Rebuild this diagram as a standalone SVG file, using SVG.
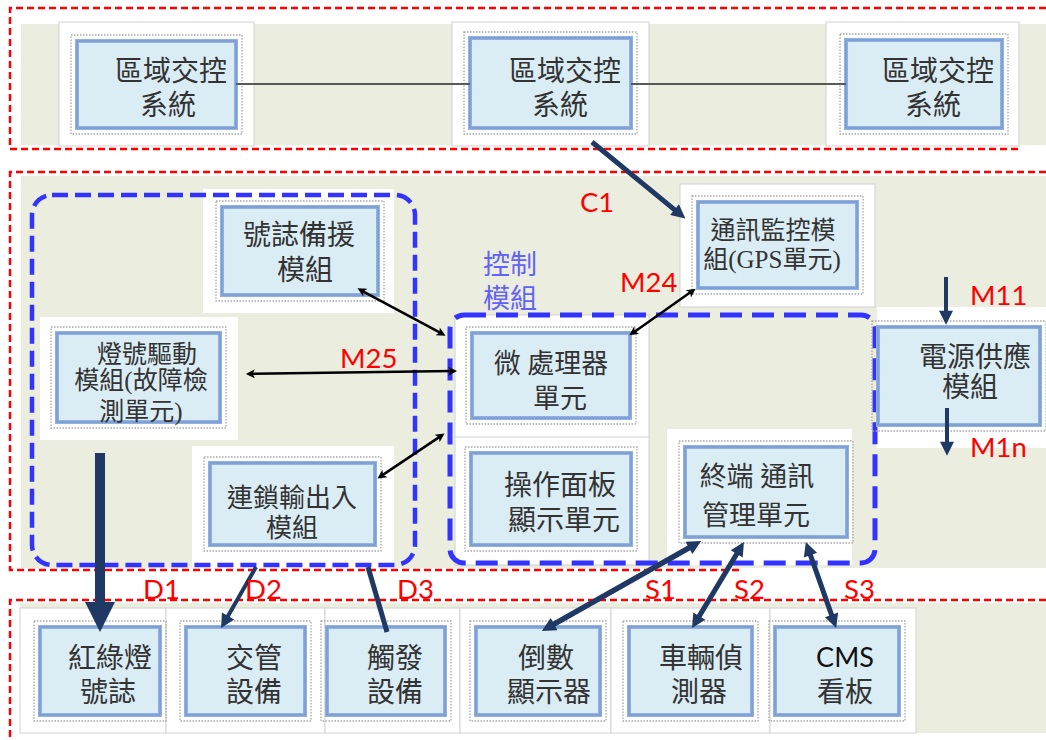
<svg xmlns="http://www.w3.org/2000/svg" width="1046" height="740" viewBox="0 0 1046 740">
<style>
.bg{fill:#EBEEDF}
.pn{fill:#fff;stroke:#d2d2d2;stroke-width:1}
.red{fill:none;stroke:#FF0000;stroke-width:2.5;stroke-dasharray:7 4}
.blue{fill:none;stroke:#3333FF;stroke-width:4.5;stroke-dasharray:16 7}
.blue2{fill:none;stroke:#3333FF;stroke-width:5;stroke-dasharray:22 10}
.glow{fill:none;stroke:#a8a8a8;stroke-width:1.3;stroke-dasharray:1.5 1.5}
.box{fill:#DAECF4;stroke:#93B1E0;stroke-width:4}
.boxin{fill:none;stroke:#7396CE;stroke-width:1.2}
.t{font-family:"Liberation Serif","Noto Sans CJK TC",serif;fill:#333;text-anchor:middle}
.lab{font-family:Lato,"Liberation Sans",sans-serif;fill:#FF0000;font-size:27.5px}
.navy{stroke:#1F3864;fill:none}
.blk{stroke:#000;stroke-width:2.5;fill:none}
</style>
<defs>
<marker id="ahN" viewBox="0 0 10 10" refX="4.4" refY="5" markerWidth="18" markerHeight="14" markerUnits="userSpaceOnUse" orient="auto-start-reverse"><path d="M0,0 L10,5 L0,10 Z" fill="#1F3864"/></marker>
<marker id="ahBig" viewBox="0 0 10 10" refX="5" refY="5" markerWidth="30" markerHeight="30" markerUnits="userSpaceOnUse" orient="auto"><path d="M0,0 L10,5 L0,10 Z" fill="#1F3864"/></marker>
<marker id="ahK" viewBox="0 0 10 10" refX="4.3" refY="5" markerWidth="14" markerHeight="9" markerUnits="userSpaceOnUse" orient="auto-start-reverse"><path d="M0,0 L10,5 L0,10 L2.5,5 Z" fill="#000"/></marker>
</defs>
<rect width="1046" height="740" fill="#fff"/>
<!-- backgrounds -->
<rect class="bg" x="21" y="24" width="1025" height="121"/>
<rect class="bg" x="21" y="176" width="1025" height="392"/>
<rect class="bg" x="20" y="603" width="1026" height="130"/>
<!-- panels top -->
<rect class="pn" x="59" y="22" width="195" height="124"/>
<rect class="pn" x="452" y="22" width="197" height="124"/>
<rect class="pn" x="826" y="22" width="193" height="124"/>
<!-- panels middle -->
<rect fill="#fff" x="203" y="189" width="191" height="124"/>
<rect fill="#fff" x="40" y="317" width="198" height="123"/>
<rect fill="#fff" x="192" y="446" width="202" height="122"/>
<rect class="pn" x="680" y="184" width="195" height="123"/>
<rect class="pn" x="455" y="315" width="194" height="250"/>
<line x1="455" y1="437" x2="649" y2="437" stroke="#d2d2d2"/>
<rect fill="#fff" x="667" y="429" width="185" height="136"/>
<rect fill="#fff" x="877" y="307" width="169" height="141"/>
<!-- panels bottom -->
<rect class="pn" x="20" y="608" width="146" height="125"/>
<rect class="pn" x="166" y="608" width="159" height="125"/>
<rect class="pn" x="325" y="608" width="135" height="125"/>
<rect class="pn" x="460" y="608" width="151" height="125"/>
<rect class="pn" x="611" y="608" width="159" height="125"/>
<rect class="pn" x="770" y="608" width="146" height="125"/>
<!-- red dashed section frames -->
<path class="red" d="M1046,8 H10 V149 H1022"/>
<path class="red" d="M1046,172 H10 V570 H741"/>
<path class="red" d="M1046,600 H10 V740"/>
<!-- blue dashed group frames -->
<rect class="blue" x="32" y="195" width="383" height="370" rx="20"/>
<rect class="blue2" x="450" y="315" width="425" height="248" rx="14"/>
<text x="483" y="274" font-family="'Liberation Serif','Noto Sans CJK TC',serif" font-size="27" fill="#6262F7">控制</text>
<text x="483" y="308" font-family="'Liberation Serif','Noto Sans CJK TC',serif" font-size="27" fill="#6262F7">模組</text>
<!-- nodes -->
<g id="atc1"><rect class="glow" x="71" y="35" width="171" height="99"/><rect class="box" x="77" y="41" width="159" height="87"/><rect class="boxin" x="77" y="41" width="159" height="87"/><text class="t" font-size="28" x="171" y="81">區域交控</text><text class="t" font-size="28" x="168" y="115">系統</text></g>
<g id="atc2"><rect class="glow" x="464" y="32" width="173" height="102"/><rect class="box" x="470" y="38" width="161" height="90"/><rect class="boxin" x="470" y="38" width="161" height="90"/><text class="t" font-size="28" x="565" y="81">區域交控</text><text class="t" font-size="28" x="560" y="115">系統</text></g>
<g id="atc3"><rect class="glow" x="840" y="34" width="168" height="100"/><rect class="box" x="846" y="40" width="156" height="88"/><rect class="boxin" x="846" y="40" width="156" height="88"/><text class="t" font-size="28" x="938" y="81">區域交控</text><text class="t" font-size="28" x="933" y="115">系統</text></g>
<g id="backup"><rect class="glow" x="216" y="201" width="168" height="100"/><rect class="box" x="222" y="207" width="156" height="88"/><rect class="boxin" x="222" y="207" width="156" height="88"/><text class="t" font-size="28" x="299" y="245">號誌備援</text><text class="t" font-size="28" x="305" y="280">模組</text></g>
<g id="lampdrv"><rect class="glow" x="51" y="327" width="175" height="101"/><rect class="box" x="57" y="333" width="163" height="89"/><rect class="boxin" x="57" y="333" width="163" height="89"/><text class="t" font-size="25" x="147" y="363">燈號驅動</text><text class="t" font-size="25" x="141" y="389">模組(故障檢</text><text class="t" font-size="25" x="141" y="420">測單元)</text></g>
<g id="interlock"><rect class="glow" x="204" y="457" width="177" height="94"/><rect class="box" x="210" y="463" width="165" height="82"/><rect class="boxin" x="210" y="463" width="165" height="82"/><text class="t" font-size="26" x="292" y="507">連鎖輸出入</text><text class="t" font-size="26" x="292" y="537">模組</text></g>
<g id="commmon"><rect class="glow" x="692" y="196" width="171" height="98"/><rect class="box" x="698" y="202" width="159" height="86"/><rect class="boxin" x="698" y="202" width="159" height="86"/><text class="t" font-size="25" x="773" y="239">通訊監控模</text><text class="t" font-size="25" x="772" y="268">組(GPS單元)</text></g>
<g id="mcu"><rect class="glow" x="466" y="327" width="170" height="97"/><rect class="box" x="472" y="333" width="158" height="85"/><rect class="boxin" x="472" y="333" width="158" height="85"/><text class="t" font-size="27" x="551" y="373">微 處理器</text><text class="t" font-size="27" x="560" y="408">單元</text></g>
<g id="panel"><rect class="glow" x="465" y="447" width="172" height="104"/><rect class="box" x="471" y="453" width="160" height="92"/><rect class="boxin" x="471" y="453" width="160" height="92"/><text class="t" font-size="28" x="560" y="495">操作面板</text><text class="t" font-size="28" x="564" y="530">顯示單元</text></g>
<g id="termcomm"><rect class="glow" x="679" y="441" width="174" height="102"/><rect class="box" x="685" y="447" width="162" height="90"/><rect class="boxin" x="685" y="447" width="162" height="90"/><text class="t" font-size="27" x="757" y="486">終端 通訊</text><text class="t" font-size="27" x="756" y="525">管理單元</text></g>
<g id="power"><rect class="glow" x="872" y="321" width="174" height="110"/><rect class="box" x="878" y="327" width="162" height="98"/><rect class="boxin" x="878" y="327" width="162" height="98"/><text class="t" font-size="28" x="975" y="367">電源供應</text><text class="t" font-size="28" x="970" y="397">模組</text></g>
<g id="signal"><rect class="glow" x="34" y="621" width="132" height="100"/><rect class="box" x="40" y="627" width="120" height="88"/><rect class="boxin" x="40" y="627" width="120" height="88"/><text class="t" font-size="28" x="110" y="668">紅綠燈</text><text class="t" font-size="28" x="108" y="702">號誌</text></g>
<g id="traffic"><rect class="glow" x="180" y="621" width="131" height="100"/><rect class="box" x="186" y="627" width="119" height="88"/><rect class="boxin" x="186" y="627" width="119" height="88"/><text class="t" font-size="28" x="254" y="668">交管</text><text class="t" font-size="28" x="254" y="702">設備</text></g>
<g id="trigger"><rect class="glow" x="321" y="621" width="130" height="100"/><rect class="box" x="327" y="627" width="118" height="88"/><rect class="boxin" x="327" y="627" width="118" height="88"/><text class="t" font-size="28" x="395" y="668">觸發</text><text class="t" font-size="28" x="395" y="702">設備</text></g>
<g id="countdown"><rect class="glow" x="470" y="621" width="136" height="100"/><rect class="box" x="476" y="627" width="124" height="88"/><rect class="boxin" x="476" y="627" width="124" height="88"/><text class="t" font-size="28" x="546" y="668">倒數</text><text class="t" font-size="28" x="549" y="702">顯示器</text></g>
<g id="detector"><rect class="glow" x="623" y="621" width="135" height="100"/><rect class="box" x="629" y="627" width="123" height="88"/><rect class="boxin" x="629" y="627" width="123" height="88"/><text class="t" font-size="28" x="701" y="668">車輛偵</text><text class="t" font-size="28" x="699" y="702">測器</text></g>
<g id="cms"><rect class="glow" x="769" y="621" width="136" height="100"/><rect class="box" x="775" y="627" width="124" height="88"/><rect class="boxin" x="775" y="627" width="124" height="88"/><text font-family="Lato,'Liberation Sans',sans-serif" font-size="27" fill="#111" text-anchor="middle" x="845" y="667">CMS</text><text class="t" font-size="28" x="845" y="702">看板</text></g>
<!-- connectors -->
<g id="connectors">
<line x1="236" y1="84" x2="470" y2="84" stroke="#595959" stroke-width="2"/>
<line x1="631" y1="84" x2="846" y2="84" stroke="#595959" stroke-width="2"/>
<line class="navy" stroke-width="5" x1="592" y1="142" x2="679.3" y2="213.6" marker-end="url(#ahN)"/>
<line class="blk" x1="362" y1="290.8" x2="441" y2="333.2" marker-start="url(#ahK)" marker-end="url(#ahK)"/>
<line class="blk" x1="251" y1="373.9" x2="452" y2="371.1" marker-start="url(#ahK)" marker-end="url(#ahK)"/>
<line class="blk" x1="381.7" y1="475.6" x2="440.3" y2="436.4" marker-start="url(#ahK)" marker-end="url(#ahK)"/>
<line class="blk" x1="691.5" y1="291.6" x2="633.5" y2="332.4" marker-start="url(#ahK)" marker-end="url(#ahK)"/>
<line class="navy" stroke-width="4" x1="946" y1="277" x2="946" y2="317" marker-end="url(#ahN)"/>
<line class="navy" stroke-width="4" x1="947" y1="408" x2="947" y2="448" marker-end="url(#ahN)"/>
<line class="navy" stroke-width="10" x1="100" y1="453" x2="100" y2="617" marker-end="url(#ahBig)"/>
<line class="navy" stroke-width="4" x1="256" y1="567" x2="225" y2="621.3" marker-end="url(#ahN)"/>
<line class="navy" stroke-width="5" x1="368" y1="567" x2="387" y2="632"/>
<line class="navy" stroke-width="5.5" x1="694.3" y1="544.9" x2="548.7" y2="627.1" marker-start="url(#ahN)" marker-end="url(#ahN)"/>
<line class="navy" stroke-width="5" x1="739.9" y1="548.6" x2="696.1" y2="621.4" marker-start="url(#ahN)" marker-end="url(#ahN)"/>
<line class="navy" stroke-width="5" x1="808.4" y1="549.4" x2="833.6" y2="620.6" marker-start="url(#ahN)" marker-end="url(#ahN)"/>
</g>
<!-- labels -->
<text class="lab" x="580" y="212">C1</text>
<text class="lab" x="620" y="292">M24</text>
<text class="lab" x="340" y="368">M25</text>
<text class="lab" x="970" y="305">M11</text>
<text class="lab" x="970" y="457">M1n</text>
<text class="lab" x="143" y="599">D1</text>
<text class="lab" x="245" y="599">D2</text>
<text class="lab" x="397" y="599">D3</text>
<text class="lab" x="645" y="599">S1</text>
<text class="lab" x="734" y="599">S2</text>
<text class="lab" x="844" y="599">S3</text>
</svg>
